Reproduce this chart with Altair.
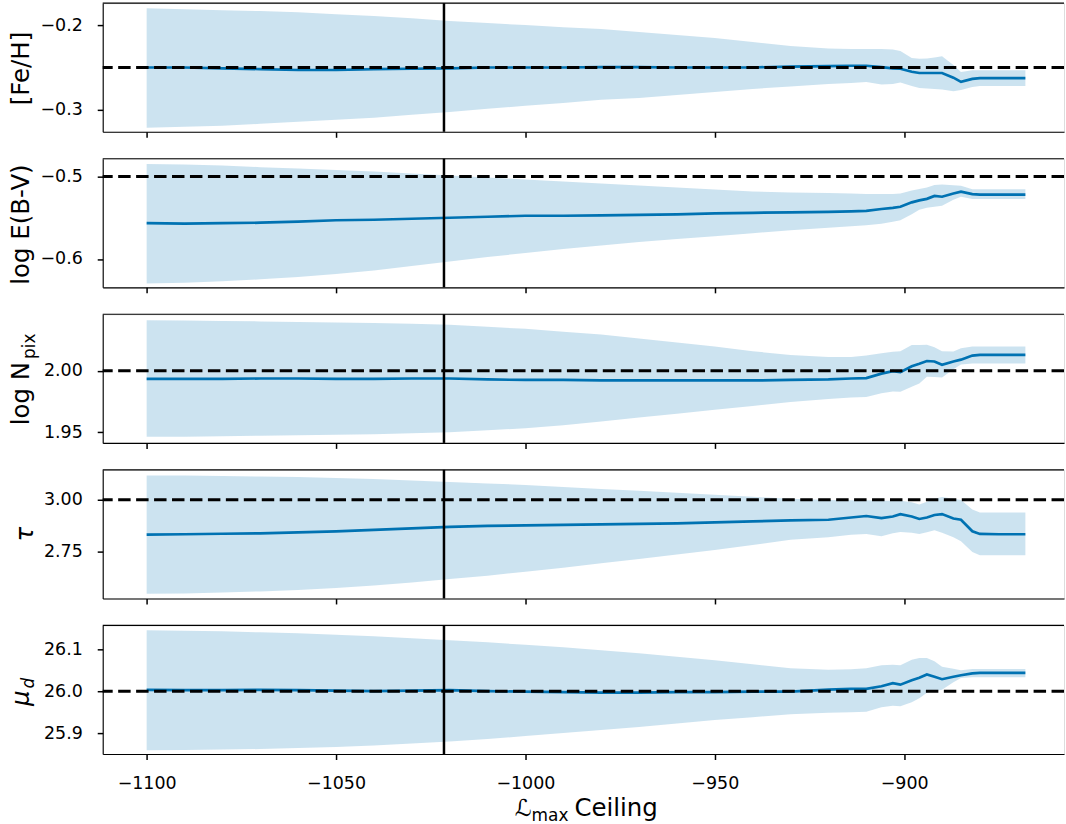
import altair as alt
import pandas as pd

# ---------------- data ----------------
x_vals = [-1100, -1090, -1080, -1070, -1060, -1050, -1040, -1030, -1020, -1010,
          -1000, -990, -980, -970, -960, -950, -940, -930, -920, -914,
          -910, -906, -903, -901, -898, -896, -894, -892, -890, -887,
          -885, -882, -880, -875, -868]

feh_mean = [-0.250, -0.250, -0.251, -0.252, -0.253, -0.253, -0.252, -0.2515, -0.251, -0.250,
            -0.250, -0.250, -0.2495, -0.2495, -0.250, -0.250, -0.250, -0.249, -0.2485, -0.248,
            -0.248, -0.2495, -0.251, -0.2515, -0.255, -0.2565, -0.2565, -0.2565, -0.2565, -0.262,
            -0.267, -0.2635, -0.2625, -0.2625, -0.2625]
feh_hi = [-0.1800, -0.1812, -0.1824, -0.1835, -0.1847, -0.1871, -0.1894, -0.1918, -0.1953, -0.1976,
          -0.2000, -0.2024, -0.2047, -0.2082, -0.2118, -0.2153, -0.2200, -0.2247, -0.2276, -0.2282,
          -0.2282, -0.2282, -0.2288, -0.2306, -0.2388, -0.2396, -0.2394, -0.2382, -0.2368, -0.2471,
          -0.2553, -0.2533, -0.2533, -0.2533, -0.2533]
feh_lo = [-0.3212, -0.3200, -0.3188, -0.3165, -0.3141, -0.3118, -0.3094, -0.3059, -0.3024, -0.2988,
          -0.2953, -0.2918, -0.2882, -0.2859, -0.2824, -0.2788, -0.2753, -0.2724, -0.2694, -0.2682,
          -0.2671, -0.2700, -0.2694, -0.2676, -0.2718, -0.2741, -0.2747, -0.2753, -0.2759, -0.2782,
          -0.2765, -0.2729, -0.2718, -0.2718, -0.2718]

ebv_mean = [-0.5566, -0.5572, -0.5566, -0.5560, -0.5548, -0.5530, -0.5524, -0.5512, -0.5500, -0.5488,
            -0.5476, -0.5476, -0.5470, -0.5464, -0.5458, -0.5446, -0.5440, -0.5434, -0.5428, -0.5422,
            -0.5416, -0.5394, -0.5380, -0.5367, -0.5313, -0.5289, -0.5271, -0.5235, -0.5245, -0.5205,
            -0.5184, -0.5213, -0.5220, -0.5220, -0.5220]
ebv_hi = [-0.4849, -0.4855, -0.4867, -0.4886, -0.4904, -0.4922, -0.4940, -0.4964, -0.4988, -0.5012,
          -0.5036, -0.5060, -0.5084, -0.5108, -0.5133, -0.5157, -0.5181, -0.5193, -0.5199, -0.5205,
          -0.5211, -0.5213, -0.5213, -0.5205, -0.5169, -0.5151, -0.5133, -0.5102, -0.5096, -0.5105,
          -0.5112, -0.5153, -0.5153, -0.5153, -0.5153]
ebv_lo = [-0.6298, -0.6289, -0.6271, -0.6247, -0.6217, -0.6181, -0.6139, -0.6084, -0.6030, -0.5976,
          -0.5928, -0.5880, -0.5837, -0.5795, -0.5759, -0.5723, -0.5687, -0.5651, -0.5620, -0.5602,
          -0.5590, -0.5572, -0.5548, -0.5530, -0.5458, -0.5404, -0.5380, -0.5367, -0.5355, -0.5283,
          -0.5245, -0.5273, -0.5273, -0.5273, -0.5273]

npix_mean = [1.9934, 1.9933, 1.9934, 1.9937, 1.9937, 1.9933, 1.9933, 1.9937, 1.9937, 1.9929,
             1.9925, 1.9925, 1.9921, 1.9921, 1.9921, 1.9921, 1.9921, 1.9925, 1.9929, 1.9937,
             1.9940, 1.9976, 1.9996, 1.9988, 2.0036, 2.0056, 2.0079, 2.0075, 2.0048, 2.0075,
             2.0090, 2.0123, 2.0129, 2.0129, 2.0129]
npix_hi = [2.0410, 2.0409, 2.0405, 2.0401, 2.0397, 2.0393, 2.0389, 2.0381, 2.0373, 2.0357,
           2.0341, 2.0317, 2.0294, 2.0262, 2.0230, 2.0198, 2.0159, 2.0127, 2.0111, 2.0111,
           2.0123, 2.0143, 2.0155, 2.0159, 2.0209, 2.0210, 2.0212, 2.0190, 2.0159, 2.0156,
           2.0183, 2.0196, 2.0196, 2.0196, 2.0196]
npix_lo = [1.9463, 1.9464, 1.9468, 1.9472, 1.9476, 1.9480, 1.9484, 1.9492, 1.9500, 1.9516,
           1.9532, 1.9556, 1.9587, 1.9619, 1.9651, 1.9683, 1.9714, 1.9746, 1.9770, 1.9782,
           1.9786, 1.9817, 1.9831, 1.9829, 1.9869, 1.9897, 1.9952, 1.9948, 1.9944, 2.0012,
           2.0050, 2.0058, 2.0058, 2.0058, 2.0058]

tau_mean = [2.8335, 2.8349, 2.8373, 2.8396, 2.8443, 2.8491, 2.8561, 2.8632, 2.8703, 2.8750,
            2.8774, 2.8797, 2.8821, 2.8844, 2.8868, 2.8915, 2.8962, 2.9009, 2.9042, 2.9150,
            2.9222, 2.9118, 2.9198, 2.9307, 2.9198, 2.9080, 2.9151, 2.9269, 2.9316, 2.9104,
            2.9042, 2.8491, 2.8363, 2.8349, 2.8349]
tau_hi = [3.1165, 3.1156, 3.1132, 3.1108, 3.1085, 3.1038, 3.0991, 3.0920, 3.0849, 3.0778,
          3.0708, 3.0613, 3.0519, 3.0425, 3.0330, 3.0236, 3.0142, 3.0047, 2.9986, 2.9976,
          2.9976, 2.9953, 2.9953, 2.9953, 2.9882, 2.9778, 2.9906, 3.0047, 3.0127, 3.0047,
          2.9986, 2.9528, 2.9387, 2.9387, 2.9387]
tau_lo = [2.5505, 2.5519, 2.5566, 2.5613, 2.5684, 2.5778, 2.5896, 2.6038, 2.6203, 2.6368,
          2.6557, 2.6745, 2.6958, 2.7170, 2.7382, 2.7594, 2.7830, 2.8090, 2.8208, 2.8325,
          2.8363, 2.8255, 2.8396, 2.8458, 2.8420, 2.8363, 2.8443, 2.8538, 2.8420, 2.8208,
          2.8019, 2.7500, 2.7344, 2.7344, 2.7344]

mud_mean = [26.0031, 26.0024, 26.0024, 26.0031, 26.0024, 26.0012, 26.0000, 26.0012, 26.0024, 26.0000,
            25.9988, 25.9976, 25.9964, 25.9964, 25.9976, 25.9976, 25.9988, 25.9988, 26.0036, 26.0055,
            26.0055, 26.0119, 26.0190, 26.0155, 26.0262, 26.0321, 26.0398, 26.0345, 26.0286, 26.0345,
            26.0381, 26.0424, 26.0436, 26.0436, 26.0436]
mud_hi = [26.1452, 26.1440, 26.1429, 26.1405, 26.1381, 26.1345, 26.1310, 26.1262, 26.1214, 26.1167,
          26.1107, 26.1048, 26.0976, 26.0905, 26.0821, 26.0738, 26.0643, 26.0548, 26.0512, 26.0524,
          26.0548, 26.0619, 26.0631, 26.0619, 26.0750, 26.0793, 26.0793, 26.0714, 26.0583, 26.0536,
          26.0500, 26.0531, 26.0531, 26.0531, 26.0531]
mud_lo = [25.8588, 25.8595, 25.8607, 25.8619, 25.8643, 25.8667, 25.8702, 25.8750, 25.8798, 25.8857,
          25.8929, 25.9000, 25.9071, 25.9143, 25.9226, 25.9310, 25.9381, 25.9452, 25.9488, 25.9500,
          25.9512, 25.9619, 25.9655, 25.9643, 25.9738, 25.9833, 25.9960, 26.0000, 26.0036, 26.0214,
          26.0317, 26.0333, 26.0333, 26.0333, 26.0333]

truth_values = [-0.25, -0.5, 2.00, 3.00, 26.0]
ceiling_cut = -1021.5
x_ticks = [-1100, -1050, -1000, -950, -900]

y_titles = ["[Fe/H]", "log E(B-V)", "log N", "τ", "μ"]
y_subscripts = [None, None, "pix", None, "d"]
y_ticks = [[-0.3, -0.2], [-0.6, -0.5], [1.95, 2.00], [2.75, 3.00], [25.9, 26.0, 26.1]]
y_formats = [".1f", ".1f", ".2f", ".2f", ".1f"]
y_domains = [[-0.3259, -0.1741], [-0.6344, -0.4784], [1.9413, 2.0459], [2.5277, 3.1431], [25.850, 26.157]]

x_title_parts = ["ℒ", "max", "Ceiling"]

# ---------------- styling ----------------
FONT = "DejaVu Sans"
BLUE = "#0072B2"
W = 964
H = 129
X_DOMAIN = [-1111.6, -857.8]
TITLE_FS = 24.5
SUB_FS = 17
LABEL_FS = 17.5

# title layout: (titleX, titleY, italic, subscript x, subscript y, subscript italic)
title_layout = [
    (-74, 65, False, None, None, False),
    (-74, 65.5, False, None, None, False),
    (-74, 79, False, -68, 32, False),
    (-70.5, 64, True, None, None, False),
    (-74, 72.5, True, -68.5, 58, True),
]

means = [feh_mean, ebv_mean, npix_mean, tau_mean, mud_mean]
his = [feh_hi, ebv_hi, npix_hi, tau_hi, mud_hi]
los = [feh_lo, ebv_lo, npix_lo, tau_lo, mud_lo]


def make_panel(i):
    bottom = (i == 4)
    df = pd.DataFrame({"x": x_vals, "mean": means[i], "lo": los[i], "hi": his[i]})
    tx, ty, ital, sx, sy, sital = title_layout[i]

    xscale = alt.Scale(domain=X_DOMAIN, nice=False, zero=False)
    yscale = alt.Scale(domain=y_domains[i], nice=False, zero=False)

    xaxis = alt.Axis(values=x_ticks, format="d", labels=bottom, title=None,
                     grid=False, tickSize=5.5, tickWidth=1.5, tickColor="black",
                     domainColor="black", domainWidth=1.1, labelFontSize=LABEL_FS,
                     labelFont=FONT, labelColor="black", labelPadding=15)
    yaxis_kwargs = dict(values=y_ticks[i], format=y_formats[i], title=y_titles[i],
                        grid=False, tickSize=5.5, tickWidth=1.5, tickColor="black",
                        domainColor="black", domainWidth=1.1, labelFontSize=LABEL_FS,
                        labelFont=FONT, labelColor="black", labelPadding=15,
                        titleFont=FONT, titleFontSize=TITLE_FS, titleColor="black",
                        titleFontWeight="normal", titleAngle=270, titleAlign="center",
                        titleBaseline="alphabetic", titleX=tx, titleY=ty)
    if ital:
        yaxis_kwargs["titleFontStyle"] = "italic"
    yaxis = alt.Axis(**yaxis_kwargs)

    X = alt.X("x:Q", scale=xscale, axis=xaxis, title=None)

    band = alt.Chart(df).mark_area(color=BLUE, opacity=0.2, strokeWidth=0).encode(
        x=X,
        y=alt.Y("lo:Q", scale=yscale, axis=yaxis, title=y_titles[i]),
        y2="hi:Q",
    )
    line = alt.Chart(df).mark_line(color=BLUE, strokeWidth=2.7).encode(
        x=alt.X("x:Q", title=None),
        y=alt.Y("mean:Q", title=y_titles[i]),
    )
    truth = alt.Chart(pd.DataFrame({"t": [truth_values[i]]})).mark_rule(
        color="black", strokeWidth=3, strokeDash=[12.5, 5.5]
    ).encode(y=alt.Y("t:Q", title=y_titles[i]))
    cut = alt.Chart(pd.DataFrame({"c": [ceiling_cut]})).mark_rule(
        color="black", strokeWidth=2.5
    ).encode(x=alt.X("c:Q", title=None))
    top = alt.Chart(pd.DataFrame({"a": [0]})).mark_rule(
        color="black", strokeWidth=1.1
    ).encode(x=alt.value(0), x2=alt.value(W), y=alt.value(0))

    layers = [band, line, truth, cut, top]

    if y_subscripts[i] is not None:
        sub = alt.Chart(pd.DataFrame({"s": [y_subscripts[i]]})).mark_text(
            font=FONT, fontSize=SUB_FS, angle=270, align="center", baseline="alphabetic",
            color="black", fontStyle=("italic" if sital else "normal")
        ).encode(x=alt.value(sx), y=alt.value(sy), text="s:N")
        layers.append(sub)

    if bottom:
        l_part = alt.Chart(pd.DataFrame({"s": [x_title_parts[0]]})).mark_text(
            font=FONT, fontSize=23.5, align="right", baseline="alphabetic", color="black"
        ).encode(x=alt.value(430), y=alt.value(191), text="s:N")
        m_part = alt.Chart(pd.DataFrame({"s": [x_title_parts[1]]})).mark_text(
            font=FONT, fontSize=SUB_FS, align="left", baseline="alphabetic", color="black"
        ).encode(x=alt.value(430), y=alt.value(196), text="s:N")
        c_part = alt.Chart(pd.DataFrame({"s": [x_title_parts[2]]})).mark_text(
            font=FONT, fontSize=TITLE_FS, align="left", baseline="alphabetic", color="black"
        ).encode(x=alt.value(473), y=alt.value(191), text="s:N")
        layers += [l_part, m_part, c_part]

    return alt.layer(*layers).properties(width=W, height=H)


panels = [make_panel(i) for i in range(5)]

chart = alt.vconcat(*panels, spacing=27, bounds="flush").properties(
    padding={"left": 8, "top": 0, "right": 0, "bottom": 0}
).configure_view(stroke=None).configure(font=FONT, background="white")

chart.save("out.html", embed_options={"renderer": "svg", "actions": False})
